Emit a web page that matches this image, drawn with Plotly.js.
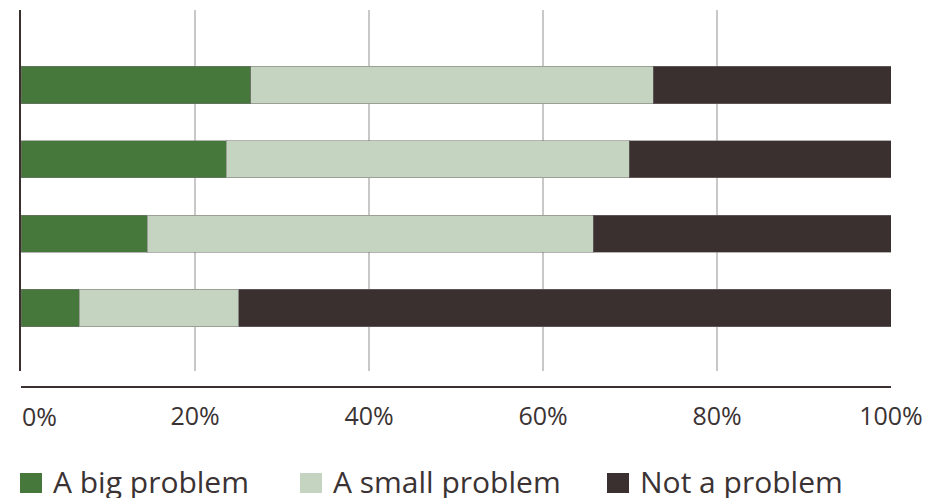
<!DOCTYPE html>
<html>
<head>
<meta charset="utf-8">
<script src="https://cdn.plot.ly/plotly-3.0.1.min.js"></script>
<style>
  html, body { margin: 0; padding: 0; background: #ffffff; }
  #chart { width: 935px; height: 498px; }
</style>
</head>
<body>
<div id="chart"></div>
<script>
// Survey rows, top to bottom (row names are not displayed)
const categories = ['Row 1', 'Row 2', 'Row 3', 'Row 4'];

// Share of answers per row, in percent
const seriesNames = ['A big problem', 'A small problem', 'Not a problem'];
const bigProblem = [26.4, 23.6, 14.5, 6.7];
const smallProblem = [46.3, 46.3, 51.3, 18.3];
const notProblem = [27.3, 30.1, 34.2, 75.0];

// Horizontal axis ticks
const tickValues = [0, 20, 40, 60, 80, 100];
const tickLabels = ['0%', '20%', '40%', '60%', '80%', '100%'];

const seriesValues = [bigProblem, smallProblem, notProblem];
const seriesColors = ['#46773b', '#c5d4c1', '#3a302f'];

const W = 935, H = 498;
const margin = { l: 21, r: 44, t: 10, b: 111, pad: 0 };
const plotW = W - margin.l - margin.r;
const plotH = H - margin.t - margin.b;
const plotBottomPx = H - margin.b;          // where the x axis line sits
const gridBottomPx = 371;                    // lower end of the bar area
const yDomainLow = (plotBottomPx - gridBottomPx) / plotH;

const px2x = px => (px - margin.l) / plotW;
const px2y = py => (plotBottomPx - py) / plotH;

const textColor = '#3b3333';
const fontFamily = '"Open Sans", "Noto Sans", sans-serif';
const tickFontSize = 25;

const traces = seriesNames.map((name, i) => ({
  type: 'bar',
  orientation: 'h',
  name: name,
  y: categories,
  x: seriesValues[i],
  width: 0.5,
  marker: {
    color: seriesColors[i],
    line: { color: 'rgba(120,115,115,0.55)', width: 1 }
  },
  showlegend: false,
  hoverinfo: 'x+name'
}));

// Hand-placed legend: colour square followed by the series name
const legendSquareLeftPx = [20, 300, 607];
const legendTextLeftPx = [52, 332, 639];
const legendTopPx = 473, legendBottomPx = 493, legendMidPx = 481;

const shapes = seriesNames.map((name, i) => ({
  type: 'rect',
  xref: 'paper', yref: 'paper',
  x0: px2x(legendSquareLeftPx[i]), x1: px2x(legendSquareLeftPx[i] + 22),
  y0: px2y(legendBottomPx), y1: px2y(legendTopPx),
  fillcolor: seriesColors[i],
  line: { width: 0 }
}));

const annotations = seriesNames.map((name, i) => ({
  xref: 'paper', yref: 'paper',
  x: px2x(legendTextLeftPx[i]), y: px2y(legendMidPx),
  xanchor: 'left', yanchor: 'middle',
  text: name,
  showarrow: false,
  borderpad: 0,
  font: { family: fontFamily, size: 30, color: textColor }
}));

// The first tick label sits flush with the left end of the axis
annotations.push({
  xref: 'x', yref: 'paper',
  x: tickValues[0], y: px2y(416),
  xanchor: 'left', yanchor: 'middle',
  text: tickLabels[0],
  showarrow: false,
  borderpad: 0,
  font: { family: fontFamily, size: tickFontSize, color: textColor }
});

const layout = {
  width: W, height: H,
  margin: margin,
  paper_bgcolor: '#ffffff',
  plot_bgcolor: '#ffffff',
  barmode: 'stack',
  bargap: 0.5,
  showlegend: false,
  font: { family: fontFamily, color: textColor },
  xaxis: {
    range: [0, 100],
    anchor: 'free',
    position: 0,
    tickvals: tickValues.slice(1),
    ticktext: tickLabels.slice(1),
    ticks: 'outside',
    ticklen: 7,
    tickcolor: 'rgba(0,0,0,0)',
    tickfont: { family: fontFamily, size: tickFontSize, color: textColor },
    showgrid: true,
    gridcolor: '#c9c7c7',
    gridwidth: 1.6,
    zeroline: false,
    showline: true,
    linecolor: '#3a3030',
    linewidth: 2,
    fixedrange: true
  },
  yaxis: {
    type: 'category',
    domain: [yDomainLow, 1],
    range: [3.848, -1.009],
    showticklabels: false,
    ticks: '',
    showgrid: false,
    zeroline: false,
    showline: true,
    linecolor: '#3a3030',
    linewidth: 2.5,
    fixedrange: true
  },
  shapes: shapes,
  annotations: annotations
};

Plotly.newPlot('chart', traces, layout, { displayModeBar: false, staticPlot: true });
</script>
</body>
</html>
